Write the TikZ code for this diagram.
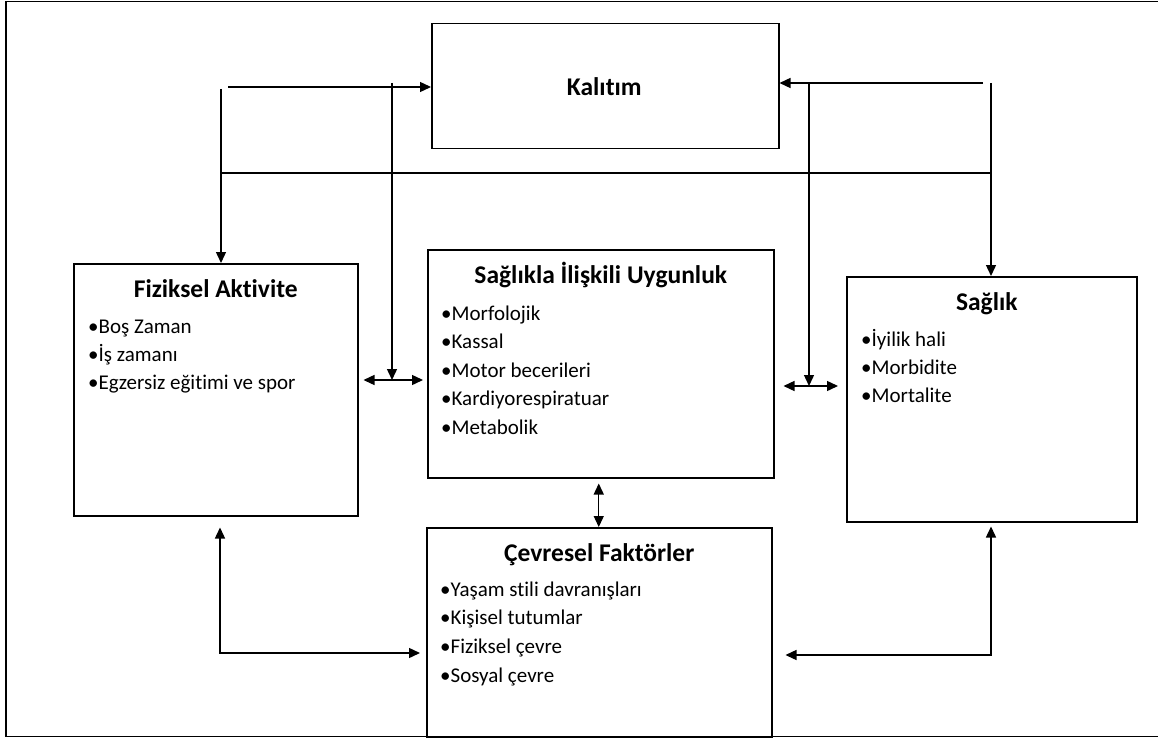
\documentclass[tikz,border=0pt]{standalone}
\usepackage{fontspec}
\setmainfont{Carlito}[Ligatures=NoCommon]
\usetikzlibrary{arrows.meta,positioning}
\begin{document}
\begin{tikzpicture}[
        x=1pt, y=1pt,
        every node/.style={font=\fontsize{21}{25}\selectfont, inner sep=0pt},
        box/.style={draw, line width=1.5pt, anchor=north west},
        heading/.style={font=\fontsize{25.5}{29}\selectfont\bfseries, anchor=base},
        item/.style={anchor=base west},
        link/.style={line width=1.4pt},
        arr/.style={link, -{Triangle[length=11pt,width=10pt]}},
        dbl/.style={link, {Triangle[length=11pt,width=10pt]}-{Triangle[length=11pt,width=10pt]}}
    ]
    \useasboundingbox (0,0) rectangle (1158,-738);
    \draw[line width=1.5pt] (1158,-1.5) -- (6,-1.5) -- (6,-736.5) -- (1158,-736.5);

    \node[box, minimum width=347, minimum height=125] (kal) at (431,-23) {};
    \node[box, minimum width=284, minimum height=252] (fa) at (73,-263) {};
    \node[box, minimum width=346, minimum height=228] (su) at (427,-249) {};
    \node[box, minimum width=290, minimum height=245] (sa) at (846,-276) {};
    \node[box, minimum width=345, minimum height=210] (ce) at (426,-527) {};

    \node[heading, anchor=center] (kalt) at ([xshift=-1]kal.center) {Kalıtım};
    \node[heading] (fat) at ([yshift=-34]fa.north) {Fiziksel Aktivite};
    \node[heading] (sut) at ([yshift=-34]su.north) {Sağlıkla İlişkili Uygunluk};
    \node[heading] (sat) at ([shift={(-5,-34)}]sa.north) {Sağlık};
    \node[heading] (cet) at ([yshift=-34]ce.north) {Çevresel Faktörler};

    \foreach \t [count=\i] in {Boş Zaman, İş zamanı, Egzersiz eğitimi ve spor}
        \node[item] (fa\i) at ([shift={(15,{-70-28*(\i-1)})}]fa.north west) {•\t};
    \foreach \t [count=\i] in {Morfolojik, Kassal, Motor becerileri, Kardiyorespiratuar, Metabolik}
        \node[item] (su\i) at ([shift={(14,{-71-28.5*(\i-1)})}]su.north west) {•\t};
    \foreach \t [count=\i] in {İyilik hali, Morbidite, Mortalite}
        \node[item] (sa\i) at ([shift={(15,{-70-28*(\i-1)})}]sa.north west) {•\t};
    \foreach \t [count=\i] in {Yaşam stili davranışları, Kişisel tutumlar, Fiziksel çevre, Sosyal çevre}
        \node[item] (ce\i) at ([shift={(14,{-69-28.7*(\i-1)})}]ce.north west) {•\t};

    \coordinate (tl) at (228,-87);
    \coordinate (tl2) at (221,-89);
    \coordinate (hl) at (221,-173);
    \coordinate (hr) at (991,-173);
    \coordinate (v1) at (392,-83);
    \coordinate (m1) at (392,-380);
    \coordinate (tr) at (983,-83);
    \coordinate (tr2) at (991,-83);
    \coordinate (v2) at (809,-83);
    \coordinate (m2) at (809,-386);
    \coordinate (bl) at (220,-653);
    \coordinate (br) at (991,-655);

    \draw[arr] (tl) -- (tl -| kal.west);
    \draw[arr] (tl2) -- (tl2 |- fa.north);
    \draw[link] (hl) -- (hr);
    \draw[arr] (v1) -- (m1);
    \draw[dbl, shorten <=5pt, shorten >=4pt] (m1 -| fa.east) -- (m1 -| su.west);
    \draw[arr] (tr) -- (tr -| kal.east);
    \draw[arr] (tr2) -- (tr2 |- sa.north);
    \draw[arr] (v2) -- (m2);
    \draw[dbl, shorten <=9pt, shorten >=8pt] (m2 -| su.east) -- (m2 -| sa.west);
    \draw[dbl, shorten <=5pt] ([xshift=-2]su.south) -- ([xshift=-2]su.south |- ce.north);
    \draw[dbl, shorten <=11pt, shorten >=6pt] (bl |- fa.south) -- (bl) -- (bl -| ce.west);
    \draw[dbl, shorten <=13pt, shorten >=4pt] (br -| ce.east) -- (br) -- (br |- sa.south);
\end{tikzpicture}
\end{document}
